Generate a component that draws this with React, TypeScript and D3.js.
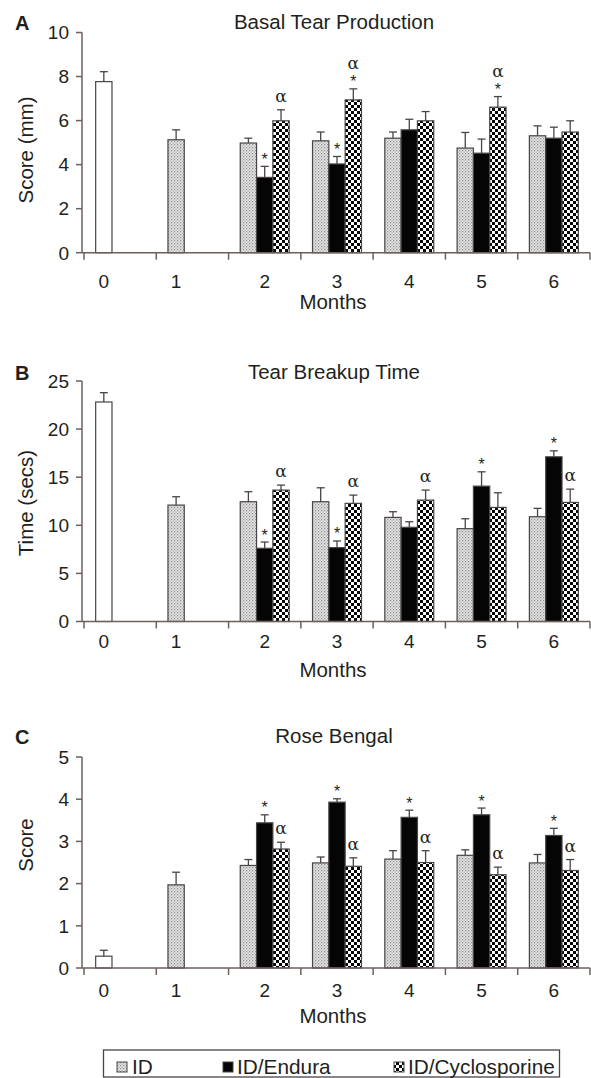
import React from "react";
import * as d3 from "d3";

const months = ["0", "1", "2", "3", "4", "5", "6"];
const seriesNames = ["Normal", "ID", "ID/Endura", "ID/Cyclosporine"];
const legendNames = ["ID", "ID/Endura", "ID/Cyclosporine"];

// Panel A – Basal Tear Production (mm)
const normalA = [7.77];
const normalErrA = [0.45];
const idA = [5.13, 4.98, 5.08, 5.2, 4.75, 5.31]; // months 1-6
const idErrA = [0.45, 0.22, 0.4, 0.28, 0.71, 0.45];
const enduraA = [3.42, 4.03, 5.58, 4.52, 5.2]; // months 2-6
const enduraErrA = [0.5, 0.34, 0.48, 0.64, 0.5];
const cycloA = [5.99, 6.94, 5.99, 6.61, 5.48];
const cycloErrA = [0.5, 0.5, 0.42, 0.48, 0.51];
const enduraMarksA = ["*", "*", "", "", ""];
const cycloMarksA = ["α", "*α", "", "*α", ""];

// Panel B – Tear Breakup Time (secs)
const normalB = [22.82];
const normalErrB = [0.97];
const idB = [12.1, 12.45, 12.45, 10.82, 9.65, 10.89];
const idErrB = [0.87, 1.04, 1.45, 0.59, 1.03, 0.87];
const enduraB = [7.61, 7.68, 9.79, 14.07, 17.12];
const enduraErrB = [0.65, 0.69, 0.58, 1.49, 0.62];
const cycloB = [13.66, 12.28, 12.62, 11.86, 12.38];
const cycloErrB = [0.52, 0.86, 1.04, 1.52, 1.38];
const enduraMarksB = ["*", "*", "", "*", "*"];
const cycloMarksB = ["α", "α", "α", "", "α"];

// Panel C – Rose Bengal (score)
const normalC = [0.28];
const normalErrC = [0.14];
const idC = [1.97, 2.43, 2.49, 2.58, 2.67, 2.49];
const idErrC = [0.3, 0.14, 0.14, 0.2, 0.13, 0.2];
const enduraC = [3.44, 3.93, 3.57, 3.63, 3.14];
const enduraErrC = [0.19, 0.08, 0.17, 0.16, 0.17];
const cycloC = [2.82, 2.41, 2.5, 2.21, 2.31];
const cycloErrC = [0.16, 0.2, 0.28, 0.18, 0.26];
const enduraMarksC = ["*", "*", "*", "*", "*"];
const cycloMarksC = ["α", "α", "α", "α", "α"];

type Bar = { month: string; series: number; value: number; err: number; marks: string };

function buildBars(
  normal: number[], normalErr: number[],
  id: number[], idErr: number[],
  endura: number[], enduraErr: number[], enduraMarks: string[],
  cyclo: number[], cycloErr: number[], cycloMarks: string[]
): Bar[] {
  const bars: Bar[] = [];
  bars.push({ month: "0", series: 0, value: normal[0], err: normalErr[0], marks: "" });
  id.forEach((v, i) => bars.push({ month: months[i + 1], series: 1, value: v, err: idErr[i], marks: "" }));
  endura.forEach((v, i) => bars.push({ month: months[i + 2], series: 2, value: v, err: enduraErr[i], marks: enduraMarks[i] }));
  cyclo.forEach((v, i) => bars.push({ month: months[i + 2], series: 3, value: v, err: cycloErr[i], marks: cycloMarks[i] }));
  return bars;
}

type PanelCfg = {
  letter: string; title: string; yLabel: string; yMax: number; yTicks: number[];
  yTop: number; y0: number; titleY: number; tickLabelY: number; monthsY: number; yLabelY: number;
  bars: Bar[];
};

const panels: PanelCfg[] = [
  {
    letter: "A", title: "Basal Tear Production", yLabel: "Score (mm)", yMax: 10, yTicks: [0, 2, 4, 6, 8, 10],
    yTop: 32.5, y0: 252.7, titleY: 28.5, tickLabelY: 288, monthsY: 309, yLabelY: 150,
    bars: buildBars(normalA, normalErrA, idA, idErrA, enduraA, enduraErrA, enduraMarksA, cycloA, cycloErrA, cycloMarksA),
  },
  {
    letter: "B", title: "Tear Breakup Time", yLabel: "Time (secs)", yMax: 25, yTicks: [0, 5, 10, 15, 20, 25],
    yTop: 381, y0: 621.5, titleY: 379, tickLabelY: 648, monthsY: 677, yLabelY: 503,
    bars: buildBars(normalB, normalErrB, idB, idErrB, enduraB, enduraErrB, enduraMarksB, cycloB, cycloErrB, cycloMarksB),
  },
  {
    letter: "C", title: "Rose Bengal", yLabel: "Score", yMax: 5, yTicks: [0, 1, 2, 3, 4, 5],
    yTop: 757, y0: 968, titleY: 743, tickLabelY: 997, monthsY: 1023, yLabelY: 845,
    bars: buildBars(normalC, normalErrC, idC, idErrC, enduraC, enduraErrC, enduraMarksC, cycloC, cycloErrC, cycloMarksC),
  },
];

const FONT = "'Liberation Sans', Arial, Helvetica, sans-serif";
const TEXT = "#231f20";
const AXIS = "#6b605c";
const OUTLINE = "#4a4446";
const fills = ["#ffffff", "url(#patID)", "#050505", "url(#patCyclo)"];

const AXIS_X = 82;
const x = d3.scaleBand<string>().domain(months).range([84, 590]).paddingInner(0).paddingOuter(0);
const slot = d3.scaleBand<string>().domain(["s0", "s1", "s2"]).range([0, x.bandwidth()]).paddingInner(0).paddingOuter(0.715);
const slotOf = (series: number) => (series <= 1 ? "s0" : series === 2 ? "s1" : "s2");

function Panel({ cfg }: { cfg: PanelCfg }) {
  const y = d3.scaleLinear().domain([0, cfg.yMax]).range([cfg.y0, cfg.yTop]);
  const bw = slot.bandwidth();
  const barX = (b: Bar) => (x(b.month) as number) + (slot(slotOf(b.series)) as number);
  const labelX = (m: string) => {
    const bs = cfg.bars.filter((b) => b.month === m);
    return d3.mean(bs, (b) => barX(b) + bw / 2) as number;
  };
  const boundaries = [...months.map((m) => x(m) as number), x.range()[1]];
  return (
    <g>
      <text x={15} y={cfg.titleY + 1} fontFamily={FONT} fontWeight="bold" fontSize={20} fill={TEXT}>{cfg.letter}</text>
      <text x={334} y={cfg.titleY} textAnchor="middle" fontFamily={FONT} fontSize={20.5} fill={TEXT}>{cfg.title}</text>
      <text transform={`translate(25,${cfg.yLabelY}) rotate(-90)`} textAnchor="middle" dominantBaseline="central" fontFamily={FONT} fontSize={20.5} fill={TEXT}>{cfg.yLabel}</text>
      {/* bars */}
      {cfg.bars.map((b, i) => (
        <rect key={"b" + i} x={barX(b)} y={y(b.value)} width={bw} height={cfg.y0 - y(b.value)}
          fill={fills[b.series]} stroke={OUTLINE} strokeWidth={1.2} />
      ))}
      {/* error bars */}
      {cfg.bars.map((b, i) => {
        const cx = barX(b) + bw / 2;
        return (
          <g key={"e" + i} stroke={OUTLINE} strokeWidth={1.3}>
            <line x1={cx} x2={cx} y1={y(b.value)} y2={y(b.value + b.err)} />
            <line x1={cx - 4} x2={cx + 4} y1={y(b.value + b.err)} y2={y(b.value + b.err)} />
          </g>
        );
      })}
      {/* significance marks */}
      {cfg.bars.filter((b) => b.marks).map((b, i) => {
        const cx = barX(b) + bw / 2;
        const top = y(b.value + b.err);
        const out: React.ReactNode[] = [];
        let c = top;
        if (b.marks.includes("*")) {
          c = top - 10;
          out.push(<text key="s" x={cx} y={c + 8.5} textAnchor="middle" fontFamily={FONT} fontSize={16} fill={TEXT}>*</text>);
          c = c - 5;
        }
        if (b.marks.includes("α")) {
          const ac = b.marks.includes("*") ? c - 9 : top - 12.5;
          out.push(<text key="a" x={cx} y={ac + 4.5} textAnchor="middle" fontFamily="'DejaVu Serif', 'Liberation Serif', serif" fontSize={17} fill={TEXT}>α</text>);
        }
        return <g key={"m" + i}>{out}</g>;
      })}
      {/* y axis */}
      <line x1={AXIS_X} x2={AXIS_X} y1={cfg.y0} y2={cfg.yTop} stroke={AXIS} strokeWidth={1.5} />
      {cfg.yTicks.map((t) => (
        <g key={"yt" + t}>
          <line x1={AXIS_X - 6} x2={AXIS_X} y1={y(t)} y2={y(t)} stroke={AXIS} strokeWidth={1.5} />
          <text x={69} y={y(t) + 6.8} textAnchor="end" fontFamily={FONT} fontSize={19} fill={TEXT}>{t}</text>
        </g>
      ))}
      {/* x axis */}
      <line x1={AXIS_X} x2={590} y1={cfg.y0} y2={cfg.y0} stroke={AXIS} strokeWidth={1.5} />
      {boundaries.map((bx, i) => (
        <line key={"xt" + i} x1={bx} x2={bx} y1={cfg.y0} y2={cfg.y0 + 7} stroke={AXIS} strokeWidth={1.5} />
      ))}
      {months.map((m) => (
        <text key={"xl" + m} x={labelX(m)} y={cfg.tickLabelY} textAnchor="middle" fontFamily={FONT} fontSize={19} fill={TEXT}>{m}</text>
      ))}
      <text x={333} y={cfg.monthsY} textAnchor="middle" fontFamily={FONT} fontSize={20.5} fill={TEXT}>Months</text>
    </g>
  );
}

function Legend() {
  const itemX = [117, 223, 394];
  const textX = [132, 237, 408];
  const legendFills = [fills[1], fills[2], fills[3]];
  return (
    <g>
      <rect x={103.5} y={1050} width={456} height={27} fill="#ffffff" stroke={OUTLINE} strokeWidth={1.3} />
      {legendNames.map((n, i) => (
        <g key={n}>
          <rect x={itemX[i]} y={1062} width={10} height={10} fill={legendFills[i]} stroke={OUTLINE} strokeWidth={1} />
          <text x={textX[i]} y={1074} fontFamily={FONT} fontSize={20.8} fill={TEXT}>{n}</text>
        </g>
      ))}
    </g>
  );
}

export default function App() {
  return (
    <div style={{ position: "absolute", left: 0, top: 0 }}>
      <svg width={591} height={1078} viewBox="0 0 591 1078" style={{ display: "block", background: "#ffffff" }}>
        <defs>
          <pattern id="patID" width={3} height={3} patternUnits="userSpaceOnUse">
            <rect width={3} height={3} fill="#e6e6e6" />
            <rect x={0} y={0} width={1.2} height={1.2} fill="#8a8a8a" />
            <rect x={1.5} y={1.5} width={1.2} height={1.2} fill="#a0a0a0" />
          </pattern>
          <pattern id="patCyclo" width={6} height={6} patternUnits="userSpaceOnUse">
            <rect width={6} height={6} fill="#ffffff" />
            <rect x={0} y={0} width={3} height={3} fill="#050505" />
            <rect x={3} y={3} width={3} height={3} fill="#050505" />
          </pattern>
        </defs>
        {panels.map((p) => (
          <Panel key={p.letter} cfg={p} />
        ))}
        <Legend />
      </svg>
    </div>
  );
}
